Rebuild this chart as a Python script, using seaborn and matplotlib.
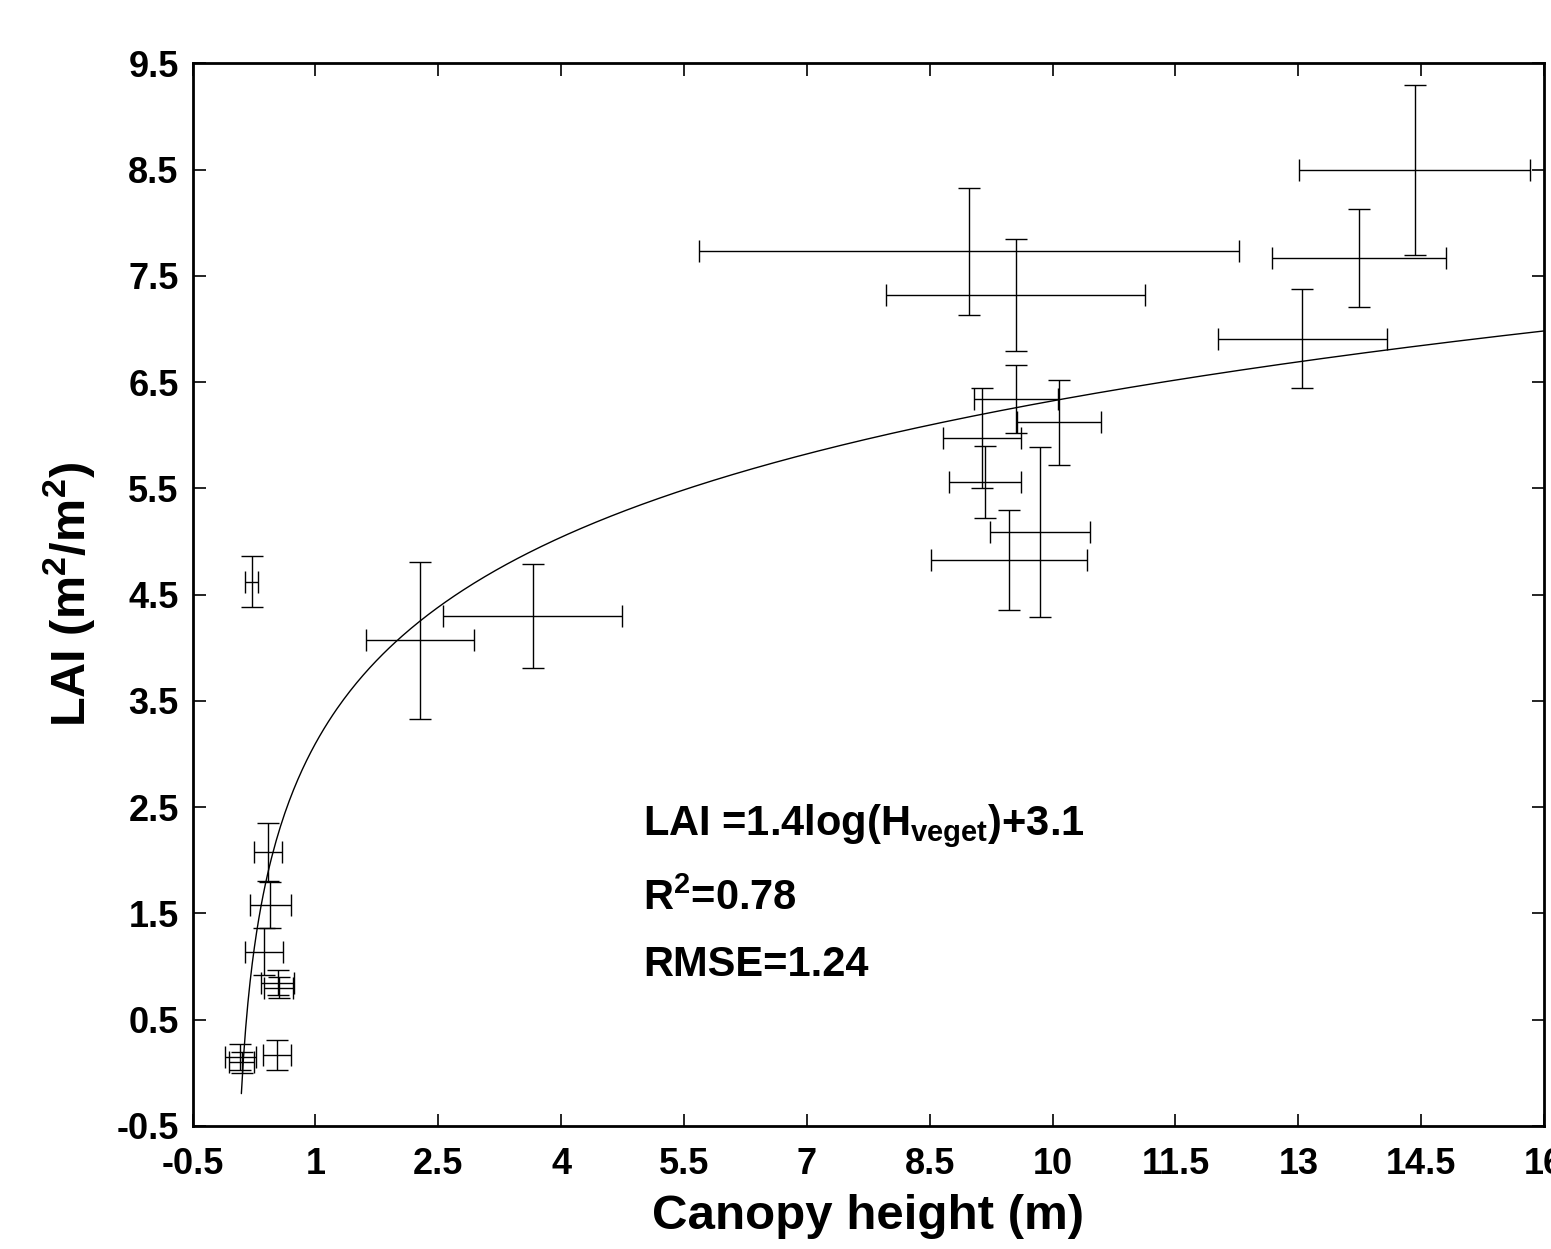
import numpy as np
import pandas as pd
import matplotlib
matplotlib.use("Agg")
import matplotlib.pyplot as plt
import seaborn as sns

# ---- data ----
canopy_height = [0.22, 0.42, 0.45, 0.37, 0.54, 0.55, 0.08, 0.10, 0.53,
                 2.28, 3.65, 8.98, 9.55, 9.55, 9.14, 9.17, 10.08, 9.85,
                 9.47, 14.42, 13.74, 13.05]
lai_values = [4.62, 2.08, 1.58, 1.14, 0.85, 0.80, 0.15, 0.10, 0.17,
              4.07, 4.30, 7.73, 7.32, 6.34, 5.97, 5.56, 6.12, 5.09,
              4.83, 8.50, 7.67, 6.91]
height_err = [0.08, 0.17, 0.245, 0.23, 0.20, 0.18, 0.19, 0.15, 0.17,
              0.66, 1.09, 3.30, 1.58, 0.51, 0.48, 0.44, 0.51, 0.61,
              0.95, 1.41, 1.06, 1.03]
lai_err = [0.24, 0.27, 0.22, 0.22, 0.12, 0.10, 0.12, 0.10, 0.14,
           0.74, 0.49, 0.60, 0.53, 0.32, 0.47, 0.34, 0.40, 0.80,
           0.47, 0.80, 0.46, 0.47]

fit_slope = 1.4
fit_intercept = 3.1
fit_h_start = 0.095
fit_h_end = 16.0

x_ticks = [-0.5, 1, 2.5, 4, 5.5, 7, 8.5, 10, 11.5, 13, 14.5, 16]
y_ticks = [-0.5, 0.5, 1.5, 2.5, 3.5, 4.5, 5.5, 6.5, 7.5, 8.5, 9.5]

eq_text = "LAI =1.4log(H$_{veget}$)+3.1"
r2_text = "R$^{2}$=0.78"
rmse_text = "RMSE=1.24"

# ---- style ----
sns.set_theme(style="ticks")
plt.rcParams["font.family"] = ["Liberation Sans", "DejaVu Sans"]
plt.rcParams["font.weight"] = "bold"
plt.rcParams["text.color"] = "black"
plt.rcParams["axes.labelcolor"] = "black"
plt.rcParams["xtick.color"] = "black"
plt.rcParams["ytick.color"] = "black"
plt.rcParams["mathtext.fontset"] = "custom"
plt.rcParams["mathtext.rm"] = "Liberation Sans:bold"
plt.rcParams["mathtext.bf"] = "Liberation Sans:bold"
plt.rcParams["mathtext.it"] = "Liberation Sans:bold"
plt.rcParams["mathtext.default"] = "bf"

fig = plt.figure(figsize=(15.51, 12.49), dpi=100)
ax = fig.add_axes([0.1242, 0.0985, 0.9955 - 0.1242, 0.9493 - 0.0985])

# fitted curve
h = np.linspace(fit_h_start, fit_h_end, 600)
fit_df = pd.DataFrame({"h": h, "lai": fit_slope * np.log(h) + fit_intercept})
sns.lineplot(data=fit_df, x="h", y="lai", ax=ax, color="black", lw=1.0)

# data with error bars
ax.errorbar(canopy_height, lai_values, xerr=height_err, yerr=lai_err,
            fmt="none", ecolor="black", elinewidth=1.0, capsize=8,
            capthick=1.0)

ax.set_xlim(-0.5, 16)
ax.set_ylim(-0.5, 9.5)
ax.set_xticks(x_ticks)
ax.set_xticklabels([f"{t:g}" for t in x_ticks])
ax.set_yticks(y_ticks)
ax.set_yticklabels([f"{t:g}" for t in y_ticks])
ax.tick_params(direction="in", length=9, width=1.2, top=True, right=True,
               labelsize=26, colors="black", labelcolor="black")
ax.tick_params(axis="x", pad=15)
ax.tick_params(axis="y", pad=10)
for lab in ax.get_xticklabels() + ax.get_yticklabels():
    lab.set_fontweight("bold")
    lab.set_color("black")
for sp in ax.spines.values():
    sp.set_linewidth(2)
    sp.set_color("black")

ax.set_xlabel("Canopy height (m)", fontsize=35.5, fontweight="bold",
              labelpad=9, color="black")
ax.set_ylabel("LAI (m$^{2}$/m$^{2}$)", fontsize=35, fontweight="bold",
              labelpad=14, color="black")

ax.text(5.0, 2.24, eq_text, fontsize=30, fontweight="bold", va="baseline",
        color="black")
ax.text(5.0, 1.53, r2_text, fontsize=30, fontweight="bold", va="baseline",
        color="black")
ax.text(5.0, 0.91, rmse_text, fontsize=30, fontweight="bold", va="baseline",
        color="black")

fig.savefig("out.png", dpi=100)
